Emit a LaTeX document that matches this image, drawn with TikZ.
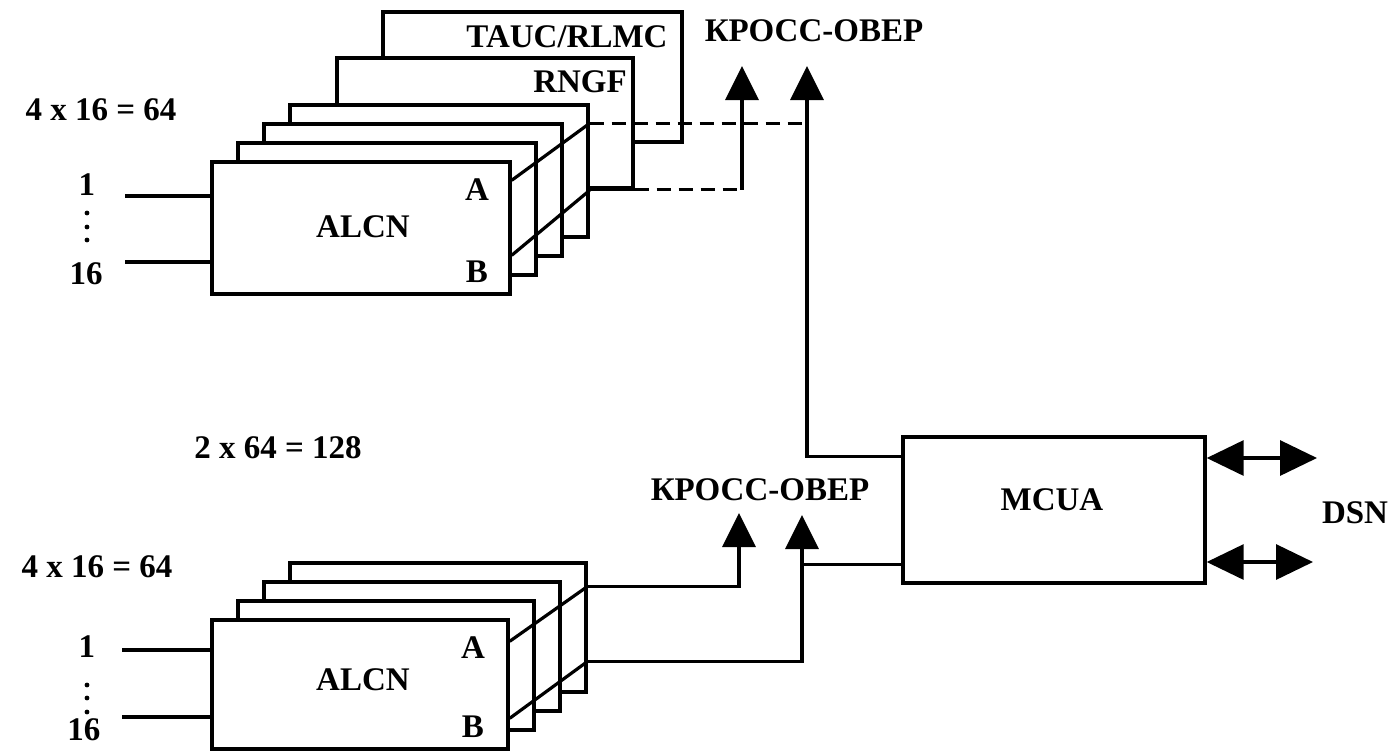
\documentclass[tikz,border=0pt]{standalone}
\usepackage{fontspec}
\setmainfont{Liberation Serif}
\usetikzlibrary{arrows.meta,calc}
\begin{document}
\begin{tikzpicture}[x=0.5pt,y=-0.5pt,
  box/.style={draw, fill=white, line width=1.7pt, inner sep=0pt},
  tbox/.style={box, minimum width=149pt, minimum height=66pt},
  bbox/.style={box, minimum width=148pt, minimum height=64.5pt},
  lbl/.style={font=\fontsize{16.5}{18}\selectfont\bfseries, inner sep=0pt},
  dotmark/.style={circle, fill=black, inner sep=0pt, minimum size=2.4pt},
  wire/.style={line width=1.6pt},
  dwire/.style={wire, dash pattern=on 7pt off 4pt},
  arr/.style={wire, -{Triangle[width=16.5pt,length=17pt]}},
  dbl/.style={wire, {Triangle[width=17.5pt,length=18.5pt]}-{Triangle[width=17.5pt,length=18.5pt]}}]
\useasboundingbox (0,0) rectangle (1394,752);
\fill[white] (0,0) rectangle (1394,752);

% ---------- upper stack ----------
\node[box, minimum width=149.5pt, minimum height=65pt] (TAUC) at (532.5,77) {};
\node[box, minimum width=148pt, minimum height=65pt] (RNGF) at (485,123) {};
\node[tbox] (T4) at (439,171) {};
\node[tbox] (T3) at (413,190) {};
\node[tbox] (T2) at (387,209) {};
\node[tbox] (T1) at (361,228) {};
\node[lbl] (tauclbl) at (567,37) {TAUC/RLMC};
\node[lbl] (rngflbl) at (580,82) {RNGF};
\node[lbl] (alcn1) at (363,227) {ALCN};
\node[lbl] (A1) at (477,190) {A};
\node[lbl] (B1) at (477,272) {B};

\coordinate (T1a) at ($(T1.north east)+(0,20)$);
\coordinate (T4a) at ($(T4.north east)+(0,20)$);
\coordinate (T1b) at ($(T1.north east)+(0,95)$);
\coordinate (T4b) at ($(T4.north east)+(0,87)$);
\draw[wire] (T1a) -- (T4a);
\draw[wire] (T1b) -- (T4b);

% ---------- lower stack ----------
\node[bbox] (L4) at (438,627.5) {};
\node[bbox] (L3) at (412,646.5) {};
\node[bbox] (L2) at (386,665.5) {};
\node[bbox] (L1) at (360,684.5) {};
\node[lbl] (alcn2) at (363,680) {ALCN};
\node[lbl] (A2) at (473,648) {A};
\node[lbl] (B2) at (473,727) {B};

\coordinate (L1a) at ($(L1.north east)+(0,23)$);
\coordinate (L4a) at ($(L4.north east)+(0,25)$);
\coordinate (L1b) at ($(L1.north east)+(0,100)$);
\coordinate (L4b) at ($(L4.north east)+(0,100)$);
\draw[wire] (L1a) -- (L4a);
\draw[wire] (L1b) -- (L4b);

% ---------- MCUA ----------
\node[box, minimum width=151pt, minimum height=73pt] (MCUA) at (1054,510) {};
\node[lbl] (mcualbl) at (1052,500) {MCUA};
\node[lbl] (dsn) at (1355,513) {DSN};

% ---------- crossover labels and arrow tips ----------
\node[lbl] (K1) at (814,31) {КРОСС-ОВЕР};
\node[lbl] (K2) at (760,490) {КРОСС-ОВЕР};
\coordinate (X1) at (742,66);
\coordinate (X2) at (807,66);
\coordinate (X3) at (739,513);
\coordinate (X4) at (802,515);

% upper connectors
\draw[dwire] (T4a) -- (T4a -| X2);
\draw[wire] (T4.east |- RNGF.south east) -- (RNGF.south east);
\draw[dwire] (RNGF.south east) -- (RNGF.south east -| X1);
\draw[arr] (RNGF.south east -| X1) -- (X1);
\coordinate (M1) at ($(MCUA.north west)+(0,21)$);
\draw[arr] (M1) -| (X2);

% lower connectors
\draw[arr] (L4a) -| (X3);
\draw[arr] (L4b) -| (X4);
\coordinate (M2) at ($(MCUA.south west)+(0,-20)$);
\draw[wire] (M2) -- (M2 -| X4);

% DSN double arrows
\coordinate (D1) at (1317,458);
\coordinate (D2) at (1313,562);
\draw[dbl] (MCUA.east |- D1) -- (D1);
\draw[dbl] (MCUA.east |- D2) -- (D2);

% ---------- inputs upper ----------
\node[lbl] (cnt1) at (101,110) {4 x 16 = 64};
\coordinate (i1) at (125,196);
\coordinate (i16) at (125,262);
\draw[line width=1.9pt] (i1) -- (i1 -| T1.west);
\draw[line width=1.9pt] (i16) -- (i16 -| T1.west);
\node[lbl] (n1) at (87,185) {1};
\node[dotmark] (d1a) at (87,213) {};
\node[dotmark] (d1b) at (87,227) {};
\node[dotmark] (d1c) at (87,240) {};
\node[lbl] (n16) at (86,274) {16};

% ---------- middle label ----------
\node[lbl] (tot) at (278,448) {2 x 64 = 128};

% ---------- inputs lower ----------
\node[lbl] (cnt2) at (97,567) {4 x 16 = 64};
\coordinate (j1) at (122,650);
\coordinate (j16) at (122,717);
\draw[line width=1.6pt] (j1) -- (j1 -| L1.west);
\draw[line width=1.6pt] (j16) -- (j16 -| L1.west);
\node[lbl] (m1) at (87,647) {1};
\node[dotmark] (e1a) at (87,685) {};
\node[dotmark] (e1b) at (87,698) {};
\node[dotmark] (e1c) at (87,712) {};
\node[lbl] (m16) at (84,730) {16};
\end{tikzpicture}
\end{document}
